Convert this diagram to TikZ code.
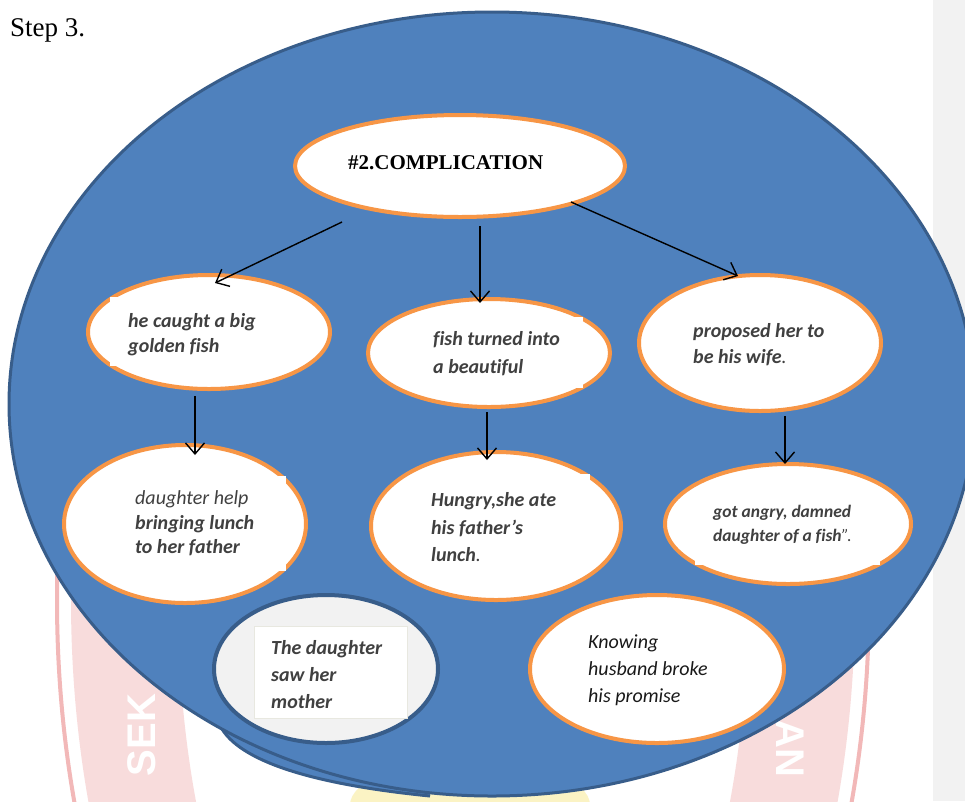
\documentclass[tikz,border=0pt]{standalone}
\usepackage{fontspec}
\setmainfont{Liberation Serif}
\newfontfamily\bodyfont[Ligatures=NoCommon]{Carlito}
\setsansfont{Liberation Sans}
\usetikzlibrary{arrows.meta,calc,shapes.geometric}
\definecolor{sheetblue}{HTML}{4F81BD}
\definecolor{rimblue}{HTML}{385D8A}
\definecolor{bubblerim}{HTML}{F79646}
\definecolor{inkgrey}{HTML}{404040}
\definecolor{margingrey}{HTML}{F2F2F2}
\definecolor{crestpink}{HTML}{F8DCDC}
\definecolor{crestred}{HTML}{F2B8B8}
\definecolor{crestgold}{HTML}{FBF3C4}
\definecolor{patchedge}{HTML}{E8E8E0}
\begin{document}
\begin{tikzpicture}[x=1pt,y=-1pt,
  bubble/.style={ellipse, draw=bubblerim, line width=4pt, fill=white, inner sep=0pt},
  greybubble/.style={ellipse, draw=rimblue, line width=4pt, fill=margingrey, inner sep=0pt},
  patch/.style={fill=white},
  words/.style={anchor=west, inner sep=0pt, align=left, text=inkgrey,
                font=\bodyfont\bfseries\itshape\fontsize{20}{25}\selectfont},
  link/.style={line width=1.4pt, -{Straight Barb[length=11pt,width=19pt,line width=1.4pt]}},
]
\useasboundingbox (0,0) rectangle (965,801);
\fill[white] (0,0) rectangle (965,801);

% faint school crest behind the page, only its lower part shows
\begin{scope}
\clip (0,500) rectangle (965,801);
\fill[crestgold] (470,805) ellipse[x radius=120, y radius=45];
\fill[crestpink, even odd rule]
  (463,600) ellipse[x radius=392, y radius=682]
  (463,600) ellipse[x radius=285, y radius=575];
\draw[crestred, line width=4pt] (463,600) ellipse[x radius=406, y radius=696];
\node[rotate=90, text=white, font=\sffamily\bfseries\fontsize{40}{40}\selectfont] (crestL) at (142,735) {SEK};
\node[rotate=-90, text=white, font=\sffamily\bfseries\fontsize{40}{40}\selectfont] (crestR) at (790,748) {AN};
\end{scope}

% right page margin
\fill[margingrey] (933,0) rectangle (965,801);

% heading
\node[anchor=base west, inner sep=0pt, font=\fontsize{27}{27}\selectfont] (step) at (10,36) {Step 3.};

% backdrop: a second rim peeking out below, then the big oval
\fill[sheetblue] (222,729) .. controls (240,758) and (300,783) .. (430,796) -- (430,700) -- (222,700) -- cycle;
\draw[rimblue, line width=3pt] (222,729) .. controls (240,758) and (300,783) .. (430,796);
\node[ellipse, fill=sheetblue, draw=rimblue, line width=3pt, inner sep=0pt,
      minimum width=966pt, minimum height=784pt] (sheet) at (492,404) {};

% bubbles
\node[bubble, minimum width=330pt, minimum height=102pt] (top) at (460,166) {};
\node[bubble, minimum width=242pt, minimum height=114pt] (hook) at (209,332) {};
\node[bubble, minimum width=242pt, minimum height=108pt] (fish) at (489,353) {};
\node[bubble, minimum width=242pt, minimum height=136pt] (wife) at (760,343) {};
\node[bubble, minimum width=242pt, minimum height=158pt] (lunch) at (185,524) {};
\node[bubble, minimum width=250pt, minimum height=148pt] (hungry) at (496,526) {};
\node[bubble, minimum width=246pt, minimum height=120pt] (angry) at (788,524) {};
\node[greybubble, minimum width=224pt, minimum height=148pt] (daughter) at (326,669) {};
\node[bubble, minimum width=254pt, minimum height=148pt] (promise) at (657,669) {};

% white text boxes laid over the bubbles
\path[patch] (110,297) rectangle (292,366);
\path[patch] (415,317) rectangle (583,388);
\path[patch] (680,315) rectangle (860,375);
\path[patch] (120,476) rectangle (286,571);
\path[patch] (415,474) rectangle (590,572);
\path[patch] (695,490) rectangle (880,565);
\path[patch, draw=patchedge, line width=0.8pt] (254,626) rectangle (407,718);

% texts
\node[anchor=west, inner sep=0pt, font=\bfseries\fontsize{21}{21}\selectfont] (topText) at (348,163) {\#2.COMPLICATION};
\node[words] (hookText) at (128,335) {he caught a big\\golden fish};
\node[words, font=\bodyfont\bfseries\itshape\fontsize{20}{28}\selectfont] (fishText) at (433,354) {fish turned into\\a beautiful};
\node[words, font=\bodyfont\bfseries\itshape\fontsize{20}{26}\selectfont] (wifeText) at (693,345) {proposed her to\\be his wife{\mdseries.}};
\node[words, font=\bodyfont\bfseries\itshape\fontsize{20}{24.5}\selectfont] (lunchText) at (135,523.5) {{\mdseries daughter help}\\bringing lunch\\to her father};
\node[words, font=\bodyfont\bfseries\itshape\fontsize{20}{27.5}\selectfont] (hungryText) at (431,527.5) {Hungry,she ate\\his father’s\\lunch{\mdseries.}};
\node[words, font=\bodyfont\bfseries\itshape\fontsize{17.5}{24}\selectfont] (angryText) at (713,525) {got angry, damned\\daughter of a fish{\mdseries”.}};
\node[words, font=\bodyfont\bfseries\itshape\fontsize{20}{27}\selectfont] (daughterText) at (271,675) {The daughter\\saw her\\mother};
\node[words, text=black!90, font=\bodyfont\itshape\fontsize{20}{27}\selectfont] (promiseText) at (588,670) {Knowing\\husband broke\\his promise};

% connectors
\draw[link] ($(top)+(-118,56)$) -- ($(hook)+(6,-49)$);
\draw[link] ($(top)+(20,60)$) -- ($(fish)+(-9,-50)$);
\draw[link] ($(top)+(111,36)$) -- ($(wife)+(-22,-67)$);
\draw[link] ($(hook)+(-14,64)$) -- ($(lunch)+(10,-69)$);
\draw[link] ($(fish)+(-2,59)$) -- ($(hungry)+(-9,-66)$);
\draw[link] ($(wife)+(25,73)$) -- ($(angry)+(-3,-60)$);
\end{tikzpicture}
\end{document}
